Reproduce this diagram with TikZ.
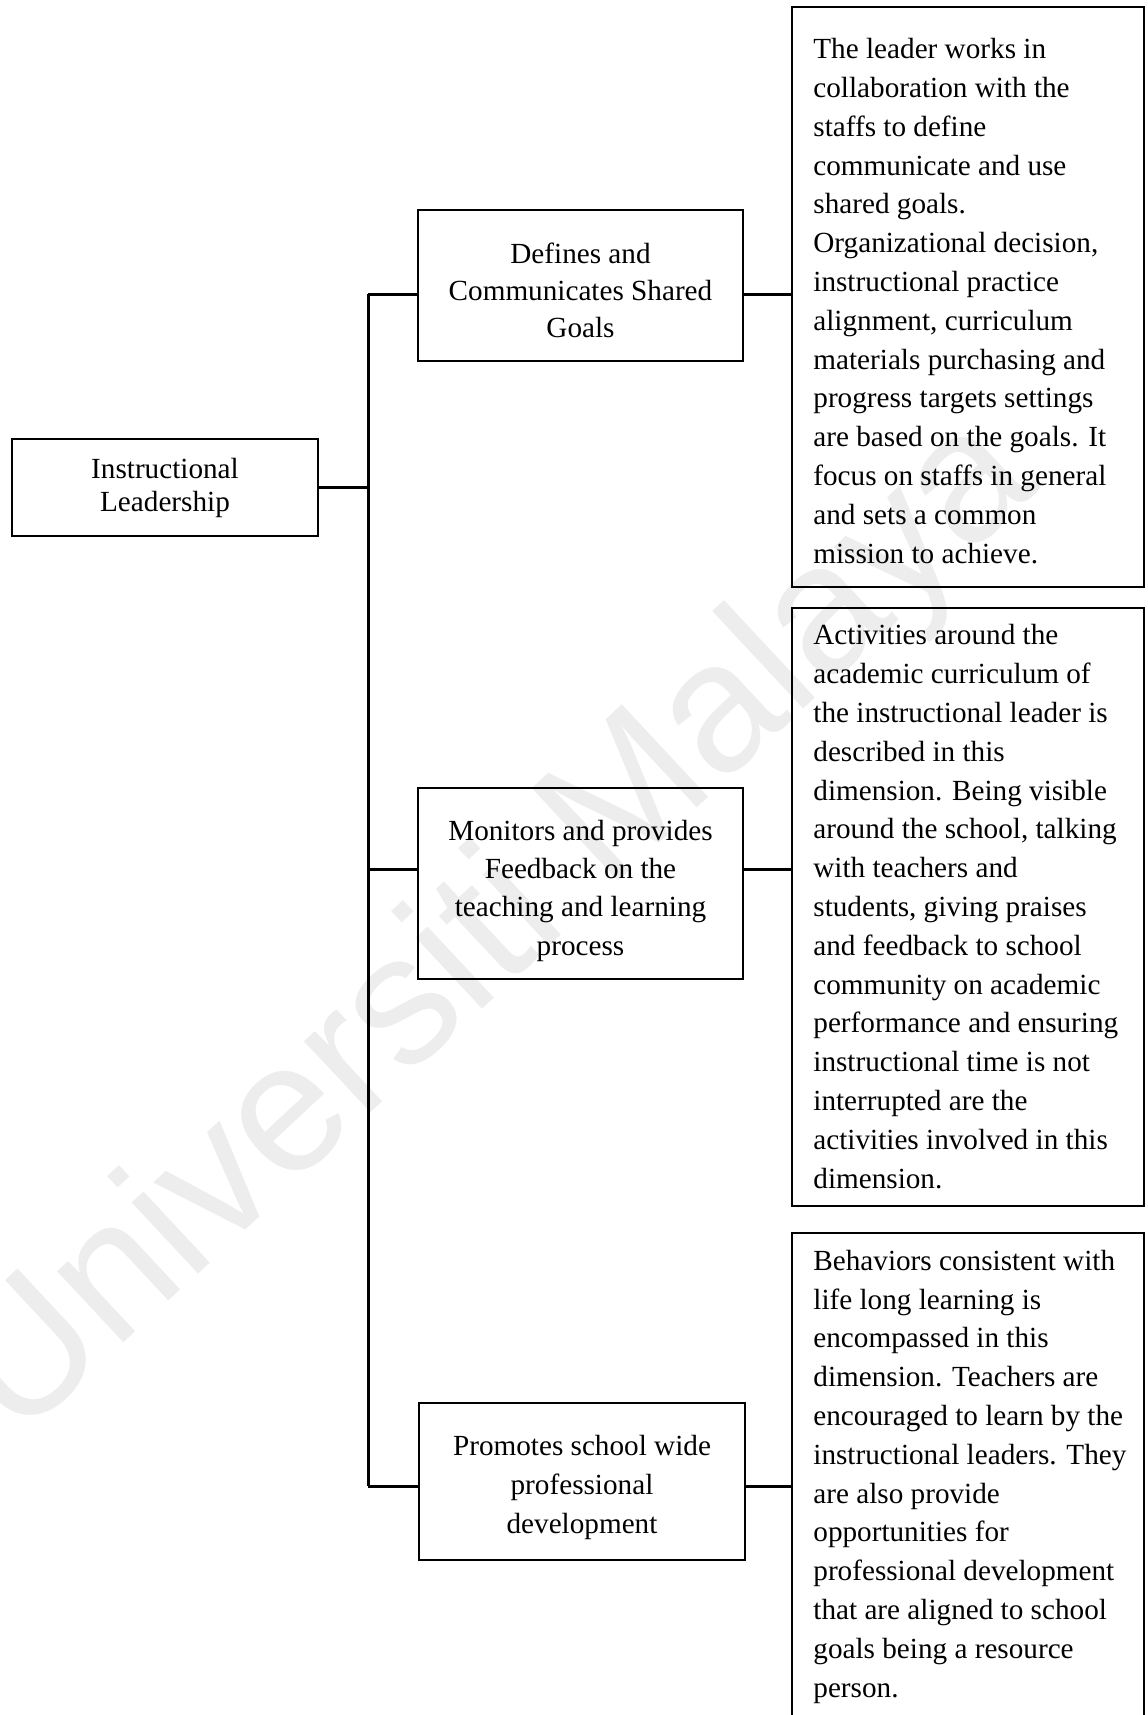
\documentclass[tikz,border=0pt]{standalone}
\usepackage{fontspec}
\setmainfont{Liberation Serif}
\newfontfamily\wmfont{Liberation Sans}
\begin{document}
\begin{tikzpicture}[x=0.5pt,y=-0.5pt,
  box/.style={draw=black,line width=1.2pt,inner sep=0pt,rectangle},
  lbl/.style={inner sep=0pt,align=center,anchor=base},
  para/.style={inner sep=0pt,align=left,anchor=base west,
    font=\fontsize{14.6}{19.4}\selectfont},
  link/.style={draw=black,line width=1.5pt}]
\useasboundingbox[fill=white] (0,0) rectangle (1147,1715);

% background stamp
\node[rotate=43,text=black!7,inner sep=0pt,font=\wmfont\fontsize{92}{92}\selectfont]
  (stamp) at (497,930) {Universiti Malaya};

% root (labels are placed by the baseline of their last line)
\node[box,minimum width=153pt,minimum height=48.5pt] (il) at (165,487.5) {};
\node[lbl,font=\fontsize{14.6}{16.5}\selectfont] (ilT) at (165,511) {Instructional\\Leadership};

% dimensions
\node[box,minimum width=162.5pt,minimum height=75.5pt] (dc) at (580.5,285.5) {};
\node[lbl,font=\fontsize{14.6}{18.5}\selectfont] (dcT) at (580.5,337) {Defines and\\Communicates Shared\\Goals};

\node[box,minimum width=162.5pt,minimum height=95.5pt] (mp) at (580.5,883.5) {};
\node[lbl,font=\fontsize{14.6}{19.15}\selectfont] (mpT) at (580.5,955) {Monitors and provides\\Feedback on the\\teaching and learning\\process};

\node[box,minimum width=163pt,minimum height=78.5pt] (ps) at (582,1481.5) {};
\node[lbl,font=\fontsize{14.6}{19.5}\selectfont] (psT) at (582,1533) {Promotes school wide\\professional\\development};

% descriptions
\node[box,minimum width=176pt,minimum height=290pt] (t1) at (968,297) {};
\node[para] (t1T) at (813,563) {The leader works in\\collaboration with the\\staffs to define\\communicate and use\\shared goals.\\Organizational decision,\\instructional practice\\alignment, curriculum\\materials purchasing and\\progress targets settings\\are based on the goals. It\\focus on staffs in general\\and sets a common\\mission to achieve.};

\node[box,minimum width=176pt,minimum height=299pt] (t2) at (968,907) {};
\node[para] (t2T) at (813,1188) {Activities around the\\academic curriculum of\\the instructional leader is\\described in this\\dimension. Being visible\\around the school, talking\\with teachers and\\students, giving praises\\and feedback to school\\community on academic\\performance and ensuring\\instructional time is not\\interrupted are the\\activities involved in this\\dimension.};

\node[box,minimum width=176pt,minimum height=263.5pt] (t3) at (968,1496.5) {};
\node[para] (t3T) at (813,1697) {Behaviors consistent with\\life long learning is\\encompassed in this\\dimension. Teachers are\\encouraged to learn by the\\instructional leaders. They\\are also provide\\opportunities for\\professional development\\that are aligned to school\\goals being a resource\\person.};

% junction points on the trunk
\coordinate (j1) at (368,294);
\coordinate (j2) at (368,869);
\coordinate (j3) at (368,1486);
\coordinate (j0) at (368,487);

% connectors
\draw[link] (j1) -- (j3);
\draw[link] (il.east |- j0) -- (j0);
\draw[link] (j1) -- (j1 -| dc.west);
\draw[link] (j2) -- (j2 -| mp.west);
\draw[link] (j3) -- (j3 -| ps.west);
\draw[link] (dc.east |- j1) -- (j1 -| t1.west);
\draw[link] (mp.east |- j2) -- (j2 -| t2.west);
\draw[link] (ps.east |- j3) -- (j3 -| t3.west);
\end{tikzpicture}
\end{document}
